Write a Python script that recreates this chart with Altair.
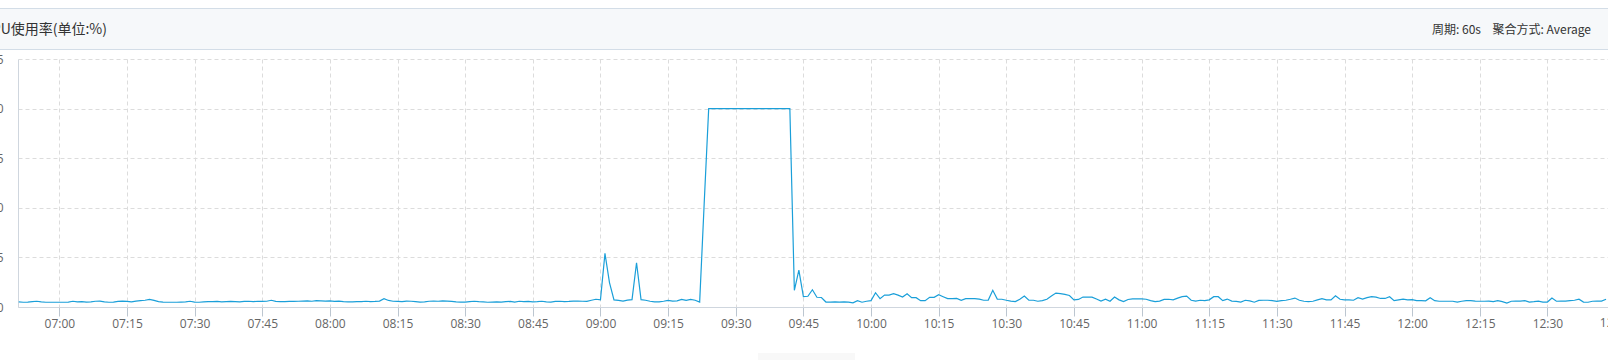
import altair as alt
import pandas as pd

# CPU usage (%) sampled every minute, 06:51 -> 12:43
start_time = "2023-01-01 06:51"
cpu_values = [
    2.6, 2.4, 2.5, 2.7, 2.9, 2.6, 2.4, 2.4, 2.4, 2.4,      # 06:51-07:00
    2.4, 2.5, 2.9, 2.6, 2.7, 2.5, 2.6, 2.9, 3.0, 2.6,      # 07:01-07:10
    2.4, 2.5, 2.8, 3.0, 2.8, 2.6, 3.0, 3.2, 3.4, 3.8,      # 07:11-07:20
    3.3, 2.7, 2.5, 2.4, 2.4, 2.4, 2.5, 2.6, 2.9, 2.5,      # 07:21-07:30
    2.4, 2.6, 2.7, 2.7, 2.8, 2.6, 2.7, 2.8, 2.7, 2.6,      # 07:31-07:40
    2.8, 2.9, 2.7, 2.9, 2.8, 2.9, 3.4, 2.8, 2.7, 2.7,      # 07:41-07:50
    2.8, 2.8, 2.9, 3.0, 3.1, 2.9, 3.2, 3.1, 3.0, 3.1,      # 07:51-08:00
    2.8, 3.0, 2.7, 2.6, 2.6, 2.7, 2.7, 2.9, 2.7, 2.8,      # 08:01-08:10
    3.0, 4.2, 3.3, 2.9, 2.8, 2.7, 3.0, 2.9, 2.7, 2.5,      # 08:11-08:20
    2.6, 2.9, 3.0, 2.9, 3.1, 3.0, 2.8, 2.6, 2.5, 2.5,      # 08:21-08:30
    2.7, 2.9, 2.7, 2.6, 2.4, 2.5, 2.6, 2.5, 2.7, 2.8,      # 08:31-08:40
    2.5, 2.9, 2.7, 2.8, 2.6, 2.7, 2.9, 2.6, 2.5, 2.8,      # 08:41-08:50
    2.9, 2.7, 2.8, 3.0, 3.0, 2.9, 2.8, 3.4, 3.9, 3.6,      # 08:51-09:00
    27.0, 12.3, 3.6, 3.3, 3.0, 3.5, 3.7, 22.3, 3.7, 3.4,   # 09:01-09:10
    2.9, 2.6, 2.6, 2.9, 3.3, 3.0, 3.1, 3.8, 3.3, 3.8,      # 09:11-09:20
    3.4, 2.5, 52.0, 100, 100, 100, 100, 100, 100, 100,     # 09:21-09:30
    100, 100, 100, 100, 100, 100, 100, 100, 100, 100,      # 09:31-09:40
    100, 100, 8.4, 18.6, 5.2, 5.4, 8.7, 4.9, 4.8, 2.5,     # 09:41-09:50
    2.5, 2.6, 2.5, 2.6, 2.5, 2.1, 3.2, 2.4, 2.9, 3.2,      # 09:51-10:00
    7.2, 4.2, 6.0, 6.0, 6.7, 6.0, 5.0, 6.7, 4.7, 4.7,      # 10:01-10:10
    3.2, 3.2, 4.9, 4.9, 6.2, 5.2, 4.2, 4.2, 4.3, 3.4,      # 10:11-10:20
    4.2, 4.2, 4.2, 4.0, 3.4, 3.5, 8.4, 4.0, 3.9, 3.4,      # 10:21-10:30
    3.0, 2.7, 3.9, 5.5, 3.4, 3.4, 2.9, 3.2, 3.9, 5.5,      # 10:31-10:40
    7.0, 6.7, 6.4, 5.8, 3.6, 3.8, 5.0, 5.0, 5.0, 4.0,      # 10:41-10:50
    3.0, 3.9, 2.9, 5.0, 3.6, 2.7, 3.8, 4.1, 4.1, 4.1,      # 10:51-11:00
    3.9, 3.2, 2.7, 3.0, 3.8, 3.9, 3.6, 4.5, 5.2, 5.5,      # 11:01-11:10
    3.4, 3.0, 3.4, 3.2, 3.6, 5.2, 5.2, 3.2, 4.0, 3.0,      # 11:11-11:20
    2.8, 2.5, 3.4, 3.1, 2.4, 3.3, 3.4, 3.4, 3.2, 2.8,      # 11:21-11:30
    3.2, 3.4, 3.9, 4.5, 3.4, 2.9, 2.7, 2.9, 3.6, 4.2,      # 11:31-11:40
    3.6, 3.6, 5.7, 3.9, 3.6, 3.6, 3.4, 4.7, 4.0, 4.7,      # 11:41-11:50
    5.2, 5.0, 4.3, 4.3, 5.2, 3.2, 3.6, 4.0, 3.6, 3.7,      # 11:51-12:00
    3.2, 3.2, 3.1, 4.7, 3.2, 2.9, 2.9, 2.9, 2.9, 2.5,      # 12:01-12:10
    2.9, 3.2, 3.2, 3.0, 2.9, 2.9, 3.0, 2.7, 3.2, 2.7,      # 12:11-12:20
    2.0, 2.9, 3.0, 3.0, 3.2, 2.5, 2.7, 3.0, 2.5, 2.5,      # 12:21-12:30
    4.5, 2.9, 3.0, 3.0, 3.2, 3.4, 3.9, 2.5, 2.4, 2.9,      # 12:31-12:40
    3.0, 3.0, 3.9,                                         # 12:41-12:43
]

y_ticks = [0, 25, 50, 75, 100, 125]
x_tick_times = [(7, 0), (7, 15), (7, 30), (7, 45), (8, 0), (8, 15), (8, 30), (8, 45),
                (9, 0), (9, 15), (9, 30), (9, 45), (10, 0), (10, 15), (10, 30), (10, 45),
                (11, 0), (11, 15), (11, 30), (11, 45), (12, 0), (12, 15), (12, 30)]
# tick just past the right edge, whose label is only partly visible
edge_tick_time = "2023-01-01T12:45:00"
edge_tick_label = "12:45"
domain_start = (6, 50, 50)
domain_end = (12, 43, 26)

title_text = "CPU使用率(单位:%)"
period_text = "周期: 60s"
agg_text = "聚合方式: Average"

times = pd.date_range(start=start_time, periods=len(cpu_values), freq="min")
df = pd.DataFrame({"time": times, "cpu": cpu_values})


def dt(h, m, s=0):
    return alt.DateTime(year=2023, month=1, date=1, hours=h, minutes=m, seconds=s)


LINE_COLOR = "#1a9fd9"
AXIS_LABEL_COLOR = "#666666"
GRID_COLOR = "#dcdcdc"

x_enc = alt.X(
    "time:T",
    scale=alt.Scale(domain=[dt(*domain_start), dt(*domain_end)]),
    axis=alt.Axis(
        values=[dt(h, m) for h, m in x_tick_times],
        format="%H:%M",
        title=None,
        grid=True,
        gridColor=GRID_COLOR,
        gridDash=[4, 3],
        domainColor="#cfd6de",
        tickColor="#bcc6d0",
        tickSize=9,
        labelPadding=2,
        labelFont="Open Sans",
        labelFontSize=12,
        labelColor=AXIS_LABEL_COLOR,
        labelFlush=False,
        labelOverlap=False,
    ),
)
y_enc = alt.Y(
    "cpu:Q",
    scale=alt.Scale(domain=[0, 125]),
    axis=alt.Axis(
        values=y_ticks,
        title=None,
        grid=True,
        gridColor=GRID_COLOR,
        gridDash=[4, 3],
        domainColor="#cfd6de",
        ticks=False,
        labelPadding=15,
        labelFont="Open Sans",
        labelFontSize=12,
        labelColor=AXIS_LABEL_COLOR,
    ),
)

line = alt.Chart(df).mark_line(color=LINE_COLOR, strokeWidth=1.2).encode(x=x_enc, y=y_enc)

edge_label = alt.Chart(
    alt.Data(values=[{"time": edge_tick_time, "label": edge_tick_label}])
).mark_text(
    align="center", baseline="top", font="Open Sans", fontSize=12, color=AXIS_LABEL_COLOR
).encode(x=alt.X("time:T"), y=alt.value(259), text="label:N")

one = alt.Data(values=[{"k": 1}])

header_bg = alt.Chart(one).mark_rect(fill="#f6f8fa").encode(
    x=alt.value(-18), x2=alt.value(1590), y=alt.value(-51), y2=alt.value(-10)
)
header_top = alt.Chart(one).mark_rule(color="#d3dde7", strokeWidth=1).encode(
    x=alt.value(-18), x2=alt.value(1590), y=alt.value(-50.5)
)
header_bottom = alt.Chart(one).mark_rule(color="#d3dde7", strokeWidth=1).encode(
    x=alt.value(-18), x2=alt.value(1590), y=alt.value(-9.5)
)
title = alt.Chart(one).mark_text(
    text=title_text, align="right", baseline="middle", font="Noto Sans CJK SC",
    fontSize=14, color="#333333"
).encode(x=alt.value(89), y=alt.value(-29))
period = alt.Chart(one).mark_text(
    text=period_text, align="left", baseline="middle", font="Noto Sans CJK SC",
    fontSize=12, color="#333333"
).encode(x=alt.value(1414), y=alt.value(-29))
agg = alt.Chart(one).mark_text(
    text=agg_text, align="right", baseline="middle", font="Noto Sans CJK SC",
    fontSize=12, color="#333333"
).encode(x=alt.value(1573), y=alt.value(-29))
faint_box = alt.Chart(one).mark_rect(fill="#f8f8f8").encode(
    x=alt.value(740), x2=alt.value(837), y=alt.value(294), y2=alt.value(301)
)

chart = (
    alt.layer(header_bg, header_top, header_bottom, title, period, agg, faint_box, line, edge_label)
    .properties(
        width=1590,
        height=248,
        autosize=alt.AutoSizeParams(type="none"),
        padding={"left": 18, "top": 59, "right": 0, "bottom": 53},
        background="white",
    )
    .configure_view(stroke=None)
)

chart.save("out.html", embed_options={"renderer": "svg", "actions": False})
